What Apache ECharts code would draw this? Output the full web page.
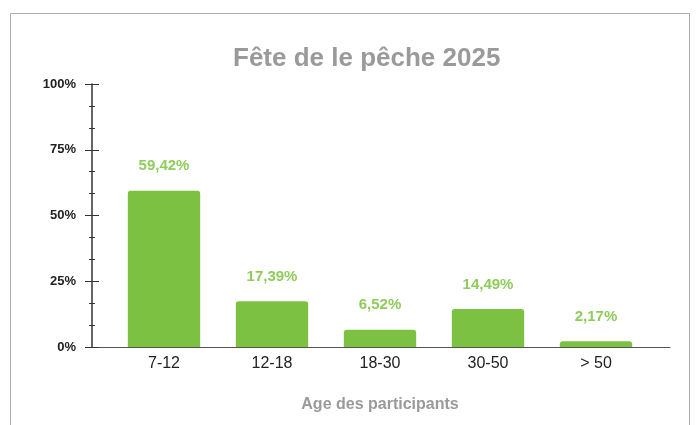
<!DOCTYPE html>
<html>
<head>
<meta charset="utf-8">
<script src="https://cdn.jsdelivr.net/npm/echarts@6/dist/echarts.min.js"></script>
<style>
html, body { margin: 0; padding: 0; background: #fff; }
#chart { width: 697px; height: 425px; }
</style>
</head>
<body>
<div id="chart"></div>
<script>
// données
var ageGroups = ["7-12", "12-18", "18-30", "30-50", "> 50"];
var percents = [59.42, 17.39, 6.52, 14.49, 2.17];
var yTicks = [0, 25, 50, 75, 100];

var chart = echarts.init(document.getElementById("chart"));

var tickColor = "#333";

var option = {
    animation: false,
    graphic: [{
        type: "rect",
        shape: { x: 10.5, y: 13.5, width: 679, height: 430 },
        style: { fill: "none", stroke: "#a9adb0", lineWidth: 1 },
        silent: true,
        z: -1
    }],
    title: {
        text: "Fête de le pêche 2025",
        left: 228,
        top: 41,
        textStyle: {
            fontFamily: "Liberation Sans, Arial",
            fontSize: 26,
            fontWeight: "bold",
            color: "#9a9a9a"
        }
    },
    grid: [
        { left: 110, right: 47, top: 84, bottom: 78 },
        { left: 92, right: 27, top: 84, bottom: 78 }
    ],
    xAxis: [
        {
            type: "category",
            gridIndex: 0,
            data: ageGroups,
            axisLine: { show: false },
            axisTick: { show: false },
            axisLabel: {
                margin: 9,
                fontFamily: "Liberation Sans, Arial",
                fontSize: 16,
                color: "#222"
            },
            name: "Age des participants",
            nameLocation: "middle",
            nameGap: 50,
            nameTextStyle: {
                fontFamily: "Liberation Sans, Arial",
                fontSize: 16,
                fontWeight: "bold",
                color: "#9a9a9a"
            }
        },
        {
            type: "value",
            gridIndex: 1,
            axisLine: { show: true, lineStyle: { color: "#555", width: 1 } },
            axisTick: { show: false },
            axisLabel: { show: false },
            splitLine: { show: false }
        }
    ],
    yAxis: [
        {
            type: "value",
            gridIndex: 0,
            offset: 18,
            min: yTicks[0],
            max: yTicks[yTicks.length - 1],
            interval: yTicks[1] - yTicks[0],
            splitLine: { show: false },
            axisLine: { show: true, lineStyle: { color: tickColor, width: 1.5 } },
            axisTick: { show: true, length: 7, lineStyle: { color: tickColor } },
            minorTick: { show: true, splitNumber: 3, length: 3, lineStyle: { color: tickColor } },
            axisLabel: {
                margin: 16,
                formatter: "{value}%",
                fontFamily: "Liberation Sans, Arial",
                fontSize: 13,
                fontWeight: "bold",
                color: "#222"
            }
        },
        // moitié droite des graduations (graduations qui traversent l'axe)
        {
            type: "value",
            gridIndex: 1,
            min: yTicks[0],
            max: yTicks[yTicks.length - 1],
            interval: yTicks[1] - yTicks[0],
            splitLine: { show: false },
            axisLine: { show: false },
            axisTick: { show: true, inside: true, length: 7, lineStyle: { color: tickColor } },
            minorTick: { show: true, splitNumber: 3, length: 3, lineStyle: { color: tickColor } },
            axisLabel: { show: false }
        }
    ],
    series: [
        {
            type: "bar",
            xAxisIndex: 0,
            yAxisIndex: 0,
            data: percents,
            barCategoryGap: "33%",
            itemStyle: {
                color: "#7cc142",
                borderRadius: [3, 3, 0, 0]
            },
            label: {
                show: true,
                position: "top",
                distance: 17,
                formatter: function(p) {
                    return p.value.toFixed(2).replace(".", ",") + "%";
                },
                fontFamily: "Liberation Sans, Arial",
                fontSize: 15,
                fontWeight: "bold",
                color: "#8fcc5c"
            }
        }
    ]
};

chart.setOption(option);
</script>
</body>
</html>
